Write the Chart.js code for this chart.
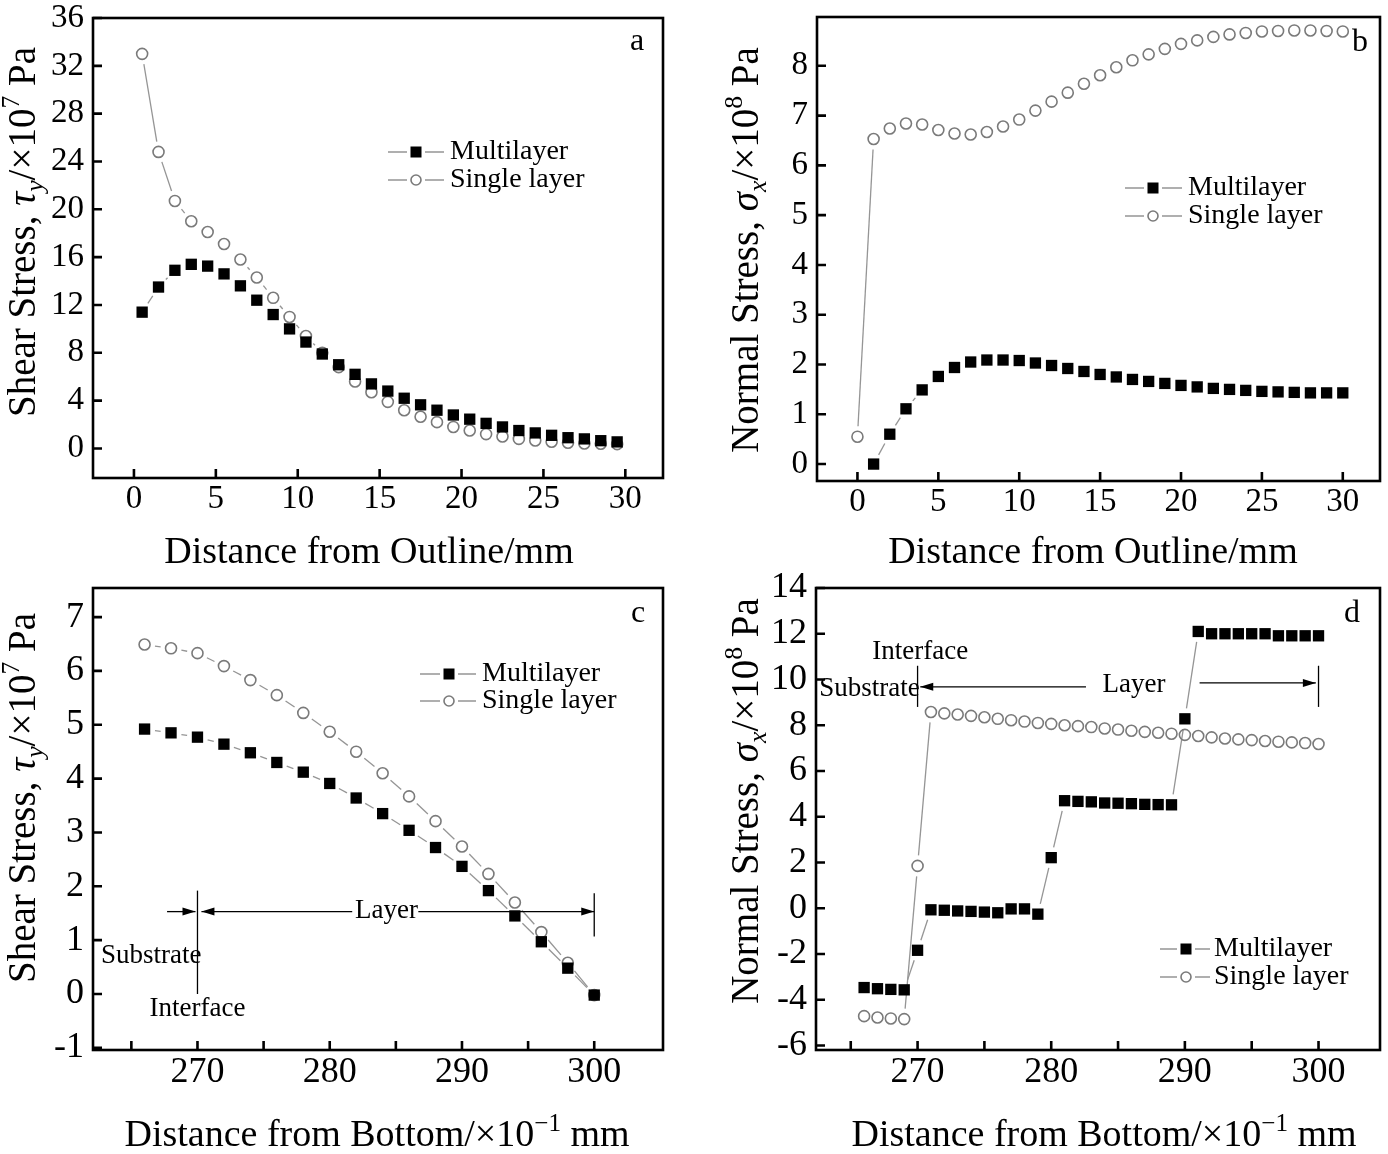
<!DOCTYPE html>
<html>
<head>
<meta charset="utf-8">
<script src="https://cdn.jsdelivr.net/npm/chart.js"></script>
<style>
  body { margin: 0; background: #fff; }
  #wrap { position: relative; width: 1388px; height: 1154px; }
  canvas { position: absolute; }
</style>
</head>
<body>
<div id="wrap">
  <canvas id="ca" width="694" height="577" style="left:0;top:0"></canvas>
  <canvas id="cb" width="694" height="577" style="left:694px;top:0"></canvas>
  <canvas id="cc" width="694" height="594" style="left:0;top:560px"></canvas>
  <canvas id="cd" width="694" height="594" style="left:694px;top:560px"></canvas>
</div>
<script>
// ---- panel a : shear stress vs distance from outline
const aDist   = [0.5, 1.5, 2.5, 3.5, 4.5, 5.5, 6.5, 7.5, 8.5, 9.5, 10.5, 11.5, 12.5, 13.5, 14.5,
                 15.5, 16.5, 17.5, 18.5, 19.5, 20.5, 21.5, 22.5, 23.5, 24.5, 25.5, 26.5, 27.5, 28.5, 29.5];
const aMulti  = [11.4, 13.5, 14.9, 15.4, 15.25, 14.6, 13.6, 12.4, 11.2, 10.0, 8.9, 7.9, 7.0, 6.2, 5.4,
                 4.8, 4.2, 3.65, 3.2, 2.8, 2.45, 2.1, 1.8, 1.5, 1.3, 1.1, 0.9, 0.8, 0.65, 0.55];
const aSingle = [33.0, 24.8, 20.7, 19.0, 18.1, 17.1, 15.8, 14.3, 12.6, 11.0, 9.4, 8.0, 6.8, 5.6, 4.7,
                 3.9, 3.2, 2.65, 2.2, 1.8, 1.5, 1.2, 1.0, 0.8, 0.67, 0.56, 0.48, 0.42, 0.4, 0.36];
const aXTicks = [0, 5, 10, 15, 20, 25, 30];
const aYTicks = [0, 4, 8, 12, 16, 20, 24, 28, 32, 36];

// ---- panel b : normal stress vs distance from outline
const bDistMulti  = [1, 2, 3, 4, 5, 6, 7, 8, 9, 10, 11, 12, 13, 14, 15,
                     16, 17, 18, 19, 20, 21, 22, 23, 24, 25, 26, 27, 28, 29, 30];
const bMulti      = [0, 0.6, 1.11, 1.49, 1.76, 1.94, 2.05, 2.09, 2.09, 2.08, 2.03, 1.98, 1.92, 1.86, 1.80,
                     1.75, 1.70, 1.66, 1.62, 1.58, 1.55, 1.52, 1.50, 1.48, 1.46, 1.45, 1.44, 1.43, 1.43, 1.43];
const bDistSingle = [0, 1, 2, 3, 4, 5, 6, 7, 8, 9, 10, 11, 12, 13, 14, 15,
                     16, 17, 18, 19, 20, 21, 22, 23, 24, 25, 26, 27, 28, 29, 30];
const bSingle     = [0.55, 6.53, 6.74, 6.84, 6.82, 6.71, 6.64, 6.62, 6.67, 6.78, 6.92, 7.1, 7.28, 7.46, 7.64, 7.81,
                     7.97, 8.11, 8.23, 8.34, 8.44, 8.51, 8.58, 8.63, 8.66, 8.69, 8.70, 8.71, 8.71, 8.70, 8.69];
const bXTicks = [0, 5, 10, 15, 20, 25, 30];
const bYTicks = [0, 1, 2, 3, 4, 5, 6, 7, 8];

// ---- panel c : shear stress vs distance from bottom
const cDist   = [266, 268, 270, 272, 274, 276, 278, 280, 282, 284, 286, 288, 290, 292, 294, 296, 298, 300];
const cMulti  = [4.92, 4.85, 4.77, 4.64, 4.48, 4.30, 4.12, 3.91, 3.64, 3.35, 3.04, 2.72, 2.37, 1.92, 1.45, 0.97, 0.48, -0.02];
const cSingle = [6.49, 6.42, 6.33, 6.09, 5.83, 5.55, 5.22, 4.87, 4.50, 4.10, 3.67, 3.21, 2.74, 2.23, 1.70, 1.15, 0.58, -0.02];
const cXTicks = [265, 270, 275, 280, 285, 290, 295, 300];
const cYTicks = [-1, 0, 1, 2, 3, 4, 5, 6, 7];

// ---- panel d : normal stress vs distance from bottom
const dDist   = [266, 267, 268, 269, 270, 271, 272, 273, 274, 275, 276, 277, 278, 279, 280, 281, 282, 283,
                 284, 285, 286, 287, 288, 289, 290, 291, 292, 293, 294, 295, 296, 297, 298, 299, 300];
const dMulti  = [-3.47, -3.52, -3.55, -3.57, -1.84, -0.07, -0.09, -0.12, -0.14, -0.17, -0.2, -0.03, -0.03, -0.26, 2.21, 4.70, 4.67, 4.65,
                 4.60, 4.59, 4.57, 4.54, 4.53, 4.52, 8.28, 12.1, 12.0, 12.0, 12.0, 12.0, 12.0, 11.91, 11.91, 11.91, 11.91];
const dSingle = [-4.72, -4.78, -4.82, -4.85, 1.85, 8.58, 8.52, 8.47, 8.41, 8.35, 8.28, 8.22, 8.16, 8.10, 8.06, 8.0, 7.96, 7.92,
                 7.86, 7.81, 7.76, 7.71, 7.67, 7.63, 7.58, 7.53, 7.47, 7.42, 7.38, 7.35, 7.31, 7.28, 7.25, 7.22, 7.18];
const dXTicks = [265, 270, 275, 280, 285, 290, 295, 300];
const dYTicks = [-6, -4, -2, 0, 2, 4, 6, 8, 10, 12, 14];

const SERIF = "'Liberation Serif', 'DejaVu Serif', serif";
const LINE_GREY = '#959595';
const CIRCLE_GREY = '#7a7a7a';

function pts(xs, ys) {
  return xs.map((x, i) => ({ x: x, y: ys[i] }));
}

// text with italic / sub / sup parts
function drawRich(ctx, parts, x, y, size, align) {
  let w = 0;
  const segs = parts.map(function (p) {
    const txt = p[0], st = p[1];
    const small = st === 'sub' || st === 'isub' || st === 'sup';
    const fs = small ? size * 0.66 : size;
    const it = st === 'i' || st === 'isub';
    const font = (it ? 'italic ' : '') + fs + 'px ' + SERIF;
    ctx.font = font;
    const mw = ctx.measureText(txt).width;
    const dy = (st === 'sub' || st === 'isub') ? size * 0.2 : (st === 'sup' ? -size * 0.4 : 0);
    w += mw;
    return { txt: txt, font: font, mw: mw, dy: dy };
  });
  let cx = align === 'center' ? x - w / 2 : x;
  ctx.textAlign = 'left';
  ctx.textBaseline = 'alphabetic';
  segs.forEach(function (s) {
    ctx.font = s.font;
    ctx.fillText(s.txt, cx, y + s.dy);
    cx += s.mw;
  });
}

function arrowHead(ctx, x, y, dir) {
  ctx.beginPath();
  ctx.moveTo(x, y);
  ctx.lineTo(x - dir * 13, y - 4);
  ctx.lineTo(x - dir * 13, y + 4);
  ctx.closePath();
  ctx.fill();
}

const deco = {
  id: 'deco',
  // origin style connecting lines, broken around each marker
  beforeDatasetsDraw(chart, args, o) {
    const ctx = chart.ctx, gap = 10.5;
    ctx.save();
    ctx.strokeStyle = LINE_GREY;
    ctx.lineWidth = 1.3;
    chart.data.datasets.forEach(function (ds, i) {
      const el = chart.getDatasetMeta(i).data;
      for (let k = 0; k < el.length - 1; k++) {
        const p = el[k], q = el[k + 1];
        const dx = q.x - p.x, dy = q.y - p.y, len = Math.hypot(dx, dy);
        if (len <= 2 * gap + 2) continue;
        const ux = dx / len, uy = dy / len;
        ctx.beginPath();
        ctx.moveTo(p.x + ux * gap, p.y + uy * gap);
        ctx.lineTo(q.x - ux * gap, q.y - uy * gap);
        ctx.stroke();
      }
    });
    ctx.restore();
  },
  afterDraw(chart, args, o) {
    const ctx = chart.ctx, a = chart.chartArea;
    const xs = chart.scales.x, ys = chart.scales.y;
    ctx.save();
    ctx.fillStyle = '#000';
    ctx.strokeStyle = '#000';

    // frame + inward ticks
    ctx.lineWidth = 2.6;
    ctx.strokeRect(a.left, a.top, a.right - a.left, a.bottom - a.top);
    ctx.beginPath();
    xs.ticks.forEach(function (t) {
      const px = xs.getPixelForValue(t.value);
      ctx.moveTo(px, a.bottom); ctx.lineTo(px, a.bottom - 9);
    });
    ys.ticks.forEach(function (t) {
      const py = ys.getPixelForValue(t.value);
      ctx.moveTo(a.left, py); ctx.lineTo(a.left + 9, py);
    });
    ctx.stroke();

    // axis titles
    drawRich(ctx, o.xTitle, o.xTitlePos[0], o.xTitlePos[1], 38, 'center');
    ctx.save();
    ctx.translate(o.yTitlePos[0], o.yTitlePos[1]);
    ctx.rotate(-Math.PI / 2);
    drawRich(ctx, o.yTitle, 0, 39 * 0.33, 39, 'center');
    ctx.restore();

    // panel letter
    ctx.font = '32px ' + SERIF;
    ctx.textAlign = 'center';
    ctx.textBaseline = 'alphabetic';
    ctx.fillText(o.letter[0], o.letter[1], o.letter[2]);

    // legend
    const L = o.legend;
    const names = chart.data.datasets.map(d => d.label);
    ctx.lineWidth = 1.3;
    names.forEach(function (name, i) {
      const y = L.rows[i];
      ctx.strokeStyle = LINE_GREY;
      ctx.beginPath();
      ctx.moveTo(L.x0, y); ctx.lineTo(L.xm - 9, y);
      ctx.moveTo(L.xm + 9, y); ctx.lineTo(L.x1, y);
      ctx.stroke();
      if (i === 0) {
        ctx.fillStyle = '#000';
        ctx.fillRect(L.xm - 5.5, y - 5.5, 11, 11);
      } else {
        ctx.strokeStyle = CIRCLE_GREY;
        ctx.lineWidth = 1.6;
        ctx.beginPath();
        ctx.arc(L.xm, y, 5, 0, Math.PI * 2);
        ctx.stroke();
        ctx.lineWidth = 1.3;
      }
      ctx.fillStyle = '#000';
      ctx.font = '28px ' + SERIF;
      ctx.textAlign = 'left';
      ctx.textBaseline = 'middle';
      ctx.fillText(name, L.xt, y);
    });

    // annotations in data coordinates
    ctx.strokeStyle = '#000';
    ctx.fillStyle = '#000';
    ctx.lineWidth = 1.3;
    (o.notes || []).forEach(function (n) {
      if (n.type === 'text') {
        ctx.font = '27px ' + SERIF;
        ctx.textAlign = 'center';
        ctx.textBaseline = 'middle';
        ctx.fillText(n.text, xs.getPixelForValue(n.x), ys.getPixelForValue(n.y));
      } else if (n.type === 'vline') {
        const px = xs.getPixelForValue(n.x);
        ctx.beginPath();
        ctx.moveTo(px, ys.getPixelForValue(n.y1));
        ctx.lineTo(px, ys.getPixelForValue(n.y2));
        ctx.stroke();
      } else if (n.type === 'arrow') {
        const p1 = xs.getPixelForValue(n.x1), p2 = xs.getPixelForValue(n.x2), py = ys.getPixelForValue(n.y);
        ctx.beginPath();
        ctx.moveTo(p1, py); ctx.lineTo(p2, py);
        ctx.stroke();
        arrowHead(ctx, p2, py, p2 > p1 ? 1 : -1);
      }
    });
    ctx.restore();
  }
};

function makeChart(id, p) {
  const cv = document.getElementById(id);
  const W = cv.width, H = cv.height;
  const tickFont = { family: SERIF, size: p.tickSize };
  return new Chart(cv, {
    type: 'scatter',
    data: {
      datasets: [
        { label: 'Multilayer', data: p.multi, pointStyle: 'rect', pointRadius: 8,
          pointBackgroundColor: '#000', pointBorderColor: '#000', pointBorderWidth: 0, showLine: false },
        { label: 'Single layer', data: p.single, pointStyle: 'circle', pointRadius: 5.5,
          pointBackgroundColor: 'rgba(255,255,255,0)', pointBorderColor: CIRCLE_GREY, pointBorderWidth: 1.6, showLine: false }
      ]
    },
    options: {
      responsive: false,
      animation: false,
      devicePixelRatio: 1,
      layout: { padding: { left: 0, top: p.area.top, right: W - p.area.right, bottom: 0 } },
      scales: {
        x: {
          type: 'linear', min: p.xRange[0], max: p.xRange[1],
          grid: { display: false, drawTicks: false }, border: { display: false },
          afterBuildTicks: s => { s.ticks = p.xTicks.map(v => ({ value: v })); },
          afterFit: s => { s.height = H - p.area.bottom; s.paddingLeft = 0; s.paddingRight = 0; },
          ticks: { font: tickFont, color: '#000', padding: p.xPad, maxRotation: 0, autoSkip: false,
                   callback: p.xLabel || (v => String(v)) }
        },
        y: {
          type: 'linear', min: p.yRange[0], max: p.yRange[1],
          grid: { display: false, drawTicks: false }, border: { display: false },
          afterBuildTicks: s => { s.ticks = p.yTicks.map(v => ({ value: v })); },
          afterFit: s => { s.width = p.area.left; s.paddingTop = 0; s.paddingBottom = 0; },
          ticks: { font: tickFont, color: '#000', padding: 9, autoSkip: false, callback: v => String(v) }
        }
      },
      plugins: { legend: { display: false }, tooltip: { enabled: false }, deco: p.deco }
    },
    plugins: [deco]
  });
}

const shearTitle  = [['Shear Stress, ', 'n'], ['\u03c4', 'i'], ['y', 'isub'], ['/\u00d710', 'n'], ['7', 'sup'], [' Pa', 'n']];
const normalTitle = [['Normal Stress, ', 'n'], ['\u03c3', 'i'], ['x', 'isub'], ['/\u00d710', 'n'], ['8', 'sup'], [' Pa', 'n']];
const outlineTitle = [['Distance from Outline/mm', 'n']];
const bottomTitle  = [['Distance from Bottom/\u00d710', 'n'], ['\u22121', 'sup'], [' mm', 'n']];
const tensOnly = v => (v % 10 === 0 ? String(v) : '');

makeChart('ca', {
  multi: pts(aDist, aMulti), single: pts(aDist, aSingle),
  area: { left: 93, top: 18, right: 663, bottom: 478 },
  tickSize: 33, xPad: 2,
  xRange: [-2.5, 32.3], yRange: [-2.47, 36], xTicks: aXTicks, yTicks: aYTicks,
  deco: {
    xTitle: outlineTitle, xTitlePos: [369, 563],
    yTitle: shearTitle, yTitlePos: [22, 232],
    letter: ['a', 637, 50],
    legend: { x0: 388, xm: 416, x1: 444, xt: 450, rows: [152, 180] }
  }
});

makeChart('cb', {
  multi: pts(bDistMulti, bMulti), single: pts(bDistSingle, bSingle),
  area: { left: 123, top: 17, right: 688, bottom: 481 },
  tickSize: 33, xPad: 2,
  xRange: [-2.5, 32.3], yRange: [-0.34, 8.98], xTicks: bXTicks, yTicks: bYTicks,
  deco: {
    xTitle: outlineTitle, xTitlePos: [399, 563],
    yTitle: normalTitle, yTitlePos: [51, 250],
    letter: ['b', 666, 51],
    legend: { x0: 431, xm: 459, x1: 488, xt: 494, rows: [188, 216] }
  }
});

// bottom row canvases start at y = 560
makeChart('cc', {
  multi: pts(cDist, cMulti), single: pts(cDist, cSingle),
  area: { left: 93, top: 28, right: 663, bottom: 490 },
  tickSize: 36, xPad: 1,
  xRange: [262.1, 305.2], yRange: [-1.04, 7.54], xTicks: cXTicks, yTicks: cYTicks, xLabel: tensOnly,
  deco: {
    xTitle: bottomTitle, xTitlePos: [377, 586],
    yTitle: shearTitle, yTitlePos: [22, 238],
    letter: ['c', 638, 62],
    legend: { x0: 420, xm: 449, x1: 476, xt: 482, rows: [114, 141] },
    notes: [
      { type: 'vline', x: 270, y1: 1.92, y2: 0 },
      { type: 'vline', x: 300, y1: 1.87, y2: 1.07 },
      { type: 'arrow', x1: 267.7, x2: 269.85, y: 1.53 },
      { type: 'arrow', x1: 281.7, x2: 270.3, y: 1.53 },
      { type: 'arrow', x1: 286.7, x2: 300, y: 1.53 },
      { type: 'text', text: 'Layer', x: 284.3, y: 1.55 },
      { type: 'text', text: 'Substrate', x: 266.5, y: 0.71 },
      { type: 'text', text: 'Interface', x: 270, y: -0.28 }
    ]
  }
});

makeChart('cd', {
  multi: pts(dDist, dMulti), single: pts(dDist, dSingle),
  area: { left: 122, top: 28, right: 689, bottom: 490 },
  tickSize: 36, xPad: 1,
  xRange: [262.4, 304.6], yRange: [-6.2, 14], xTicks: dXTicks, yTicks: dYTicks, xLabel: tensOnly,
  deco: {
    xTitle: bottomTitle, xTitlePos: [410, 586],
    yTitle: normalTitle, yTitlePos: [51, 241],
    letter: ['d', 658, 62],
    legend: { x0: 466, xm: 492, x1: 516, xt: 520, rows: [389, 417] },
    notes: [
      { type: 'vline', x: 270, y1: 10.6, y2: 8.8 },
      { type: 'vline', x: 300, y1: 10.6, y2: 8.8 },
      { type: 'arrow', x1: 282.6, x2: 270.2, y: 9.68 },
      { type: 'arrow', x1: 291.1, x2: 299.8, y: 9.85 },
      { type: 'text', text: 'Layer', x: 286.2, y: 9.77 },
      { type: 'text', text: 'Substrate', x: 266.4, y: 9.6 },
      { type: 'text', text: 'Interface', x: 270.2, y: 11.2 }
    ]
  }
});
</script>
</body>
</html>
